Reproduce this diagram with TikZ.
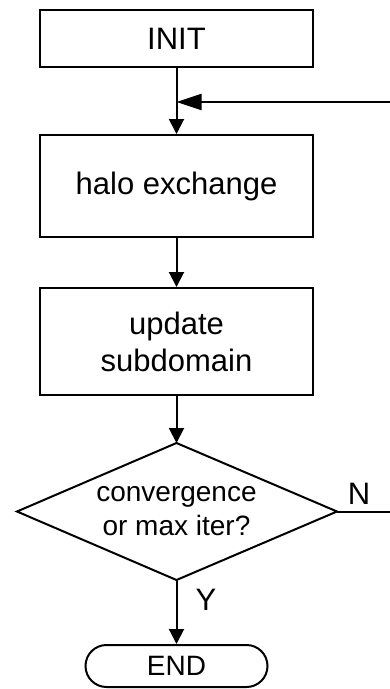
\documentclass[tikz,border=0pt]{standalone}
\usepackage{fontspec}
\setmainfont{Liberation Sans}
\usetikzlibrary{shapes.misc,arrows.meta}
\begin{document}
\begin{tikzpicture}[x=1pt,y=-1pt,
  line width=2pt,
  procbox/.style={draw,rectangle,minimum width=273pt,inner sep=0pt,align=center,font=\fontsize{31}{37}\selectfont},
  dectext/.style={inner sep=0pt,align=center,font=\fontsize{28}{34}\selectfont},
  termbox/.style={draw,rounded rectangle,minimum width=182pt,minimum height=42pt,inner sep=0pt,font=\fontsize{28}{34}\selectfont},
  flow/.style={-{Triangle[length=15pt,width=15pt]}},
  sideflow/.style={-{Triangle[length=25pt,width=16pt]}},
  lbl/.style={font=\fontsize{31}{37}\selectfont,inner sep=0pt}]
\useasboundingbox (0,0) rectangle (390,689);
\node[procbox,minimum height=57pt] (init) at (176.5,38.5) {INIT};
\node[procbox,minimum height=102pt] (halo) at (176.5,186) {halo exchange};
\node[procbox,minimum height=107pt] (upd) at (176.5,341.5) {update\\subdomain};
% decision diamond
\coordinate (dtop) at (176.5,443);
\coordinate (dleft) at (17,511.5);
\coordinate (dright) at (337,511.5);
\coordinate (dbot) at (176.5,580);
\draw[line join=miter] (dtop) -- (dright) -- (dbot) -- (dleft) -- cycle;
\node[dectext] (dec) at (176.5,511.5) {convergence\\or max iter?};
\node[termbox] (end) at (176.5,666) {END};
\coordinate (sideR) at (390,102);
\coordinate (nR) at (390,511.5);
\draw[flow] (init) -- (halo);
\draw[sideflow] (sideR) -- (sideR -| init.south);
\draw[flow] (halo) -- (upd);
\draw[flow] (upd) -- (dtop);
\draw[flow] (dbot) -- (end);
\node[lbl] (ylab) at (206,600) {Y};
\draw (dright) -- (nR);
\node[lbl] (nlab) at (359,494) {N};
\end{tikzpicture}
\end{document}
